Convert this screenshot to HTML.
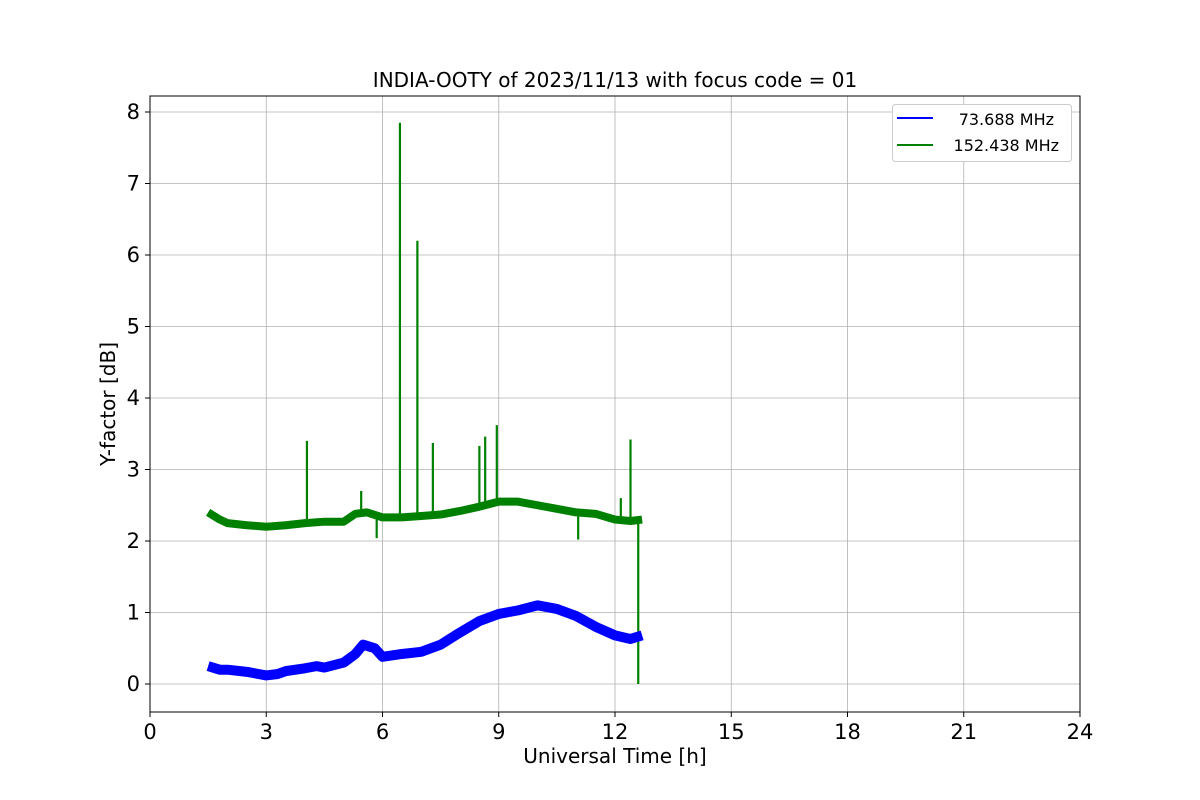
<!DOCTYPE html>
<html><head><meta charset="utf-8"><style>
body{margin:0;background:#fff}
svg{display:block;font-family:"DejaVu Sans","Liberation Sans",sans-serif}
</style></head><body>
<svg id="chart" width="1200" height="800">
<text x="615" y="87" text-anchor="middle" font-size="20">INDIA-OOTY of 2023/11/13 with focus code = 01</text>
<g id="grid"></g>
<g id="series"></g>
<rect x="150" y="96" width="930" height="616" fill="none" stroke="#000" stroke-width="1"/>
<g id="ticks"></g>
<text x="615" y="763" text-anchor="middle" font-size="20">Universal Time [h]</text>
<text x="115" y="404" text-anchor="middle" font-size="20" transform="rotate(-90 115 404)">Y-factor [dB]</text>
<g>
<rect x="892.5" y="104.5" width="179" height="57" rx="3" fill="#fff" stroke="#ccc"/>
<line x1="897" y1="118" x2="933" y2="118" stroke="#0000ff" stroke-width="2"/>
<text x="1054" y="125" text-anchor="end" font-size="16">73.688 MHz</text>
<line x1="897" y1="145" x2="933" y2="145" stroke="#008000" stroke-width="2"/>
<text x="1059" y="151" text-anchor="end" font-size="16">152.438 MHz</text>
</g>
</svg>
<script>
const xTicks=[0,3,6,9,12,15,18,21,24];
const yTicks=[0,1,2,3,4,5,6,7,8];
const blueT=[1.5,1.8,2,2.5,3,3.3,3.5,4,4.3,4.5,5,5.3,5.5,5.8,6,6.5,7,7.5,8,8.5,9,9.5,10,10.5,11,11.5,12,12.4,12.7];
const blueV=[0.25,0.2,0.2,0.17,0.12,0.14,0.18,0.22,0.25,0.23,0.3,0.42,0.55,0.5,0.38,0.42,0.45,0.55,0.72,0.88,0.98,1.03,1.1,1.05,0.95,0.8,0.68,0.63,0.68];
const greenT=[1.5,1.8,2,2.5,3,3.5,4,4.5,5,5.3,5.6,6,6.5,7,7.5,8,8.5,9,9.5,10,10.5,11,11.5,12,12.4,12.7];
const greenV=[2.4,2.3,2.25,2.22,2.2,2.22,2.25,2.27,2.27,2.38,2.4,2.33,2.33,2.35,2.37,2.42,2.48,2.55,2.55,2.5,2.45,2.4,2.38,2.3,2.28,2.3];
const spikeT=[4.05,5.45,6.45,6.9,7.3,8.5,8.65,8.95,12.15,12.4,12.6,11.05,5.85];
const spikeV=[3.4,2.7,7.85,6.2,3.37,3.33,3.46,3.62,2.6,3.42,0.0,2.02,2.04];
const X=t=>150+t*38.75, Y=v=>684-v*71.5;
const NS='http://www.w3.org/2000/svg';
function mk(tag,attrs,parent){const e=document.createElementNS(NS,tag);for(const k in attrs)e.setAttribute(k,attrs[k]);parent.appendChild(e);return e;}
const grid=document.getElementById('grid'),ticks=document.getElementById('ticks'),series=document.getElementById('series');
xTicks.forEach(t=>{
 const g=mk('line',{x1:X(t),x2:X(t),y1:96,y2:712,stroke:'#b0b0b0','stroke-width':0.8},grid);
 
 
 const m=mk('line',{x1:X(t),x2:X(t),y1:712,y2:717,stroke:'#000'},ticks);
 
 
 const l=mk('text',{x:X(t),y:739,'text-anchor':'middle','font-size':21},ticks);
 l.textContent=t;
 
 
});
yTicks.forEach(v=>{
 const g=mk('line',{x1:150,x2:1080,y1:Y(v),y2:Y(v),stroke:'#b0b0b0','stroke-width':0.8},grid);
 
 
 const m=mk('line',{x1:145,x2:150,y1:Y(v),y2:Y(v),stroke:'#000'},ticks);
 
 
 const l=mk('text',{x:140,y:Y(v)+7,'text-anchor':'end','font-size':21},ticks);
 l.textContent=v;
 
 
});
const pts=(T,V)=>T.map((t,i)=>X(t)+','+Y(V[i])).join(' ');
const gl=mk('polyline',{points:pts(greenT,greenV),fill:'none',stroke:'#008000','stroke-width':8,'stroke-linejoin':'round','stroke-linecap':'butt'},series);


spikeT.forEach((t,i)=>{
 let j=0;while(j<greenT.length-2&&greenT[j+1]<t)j++;
 const base=greenV[j]+(greenV[j+1]-greenV[j])*(t-greenT[j])/(greenT[j+1]-greenT[j]);
 const s=mk('line',{x1:X(t),x2:X(t),y1:Y(base),y2:Y(spikeV[i]),stroke:'#008000','stroke-width':2.2},series);
 
 
});
const bl=mk('polyline',{points:pts(blueT,blueV),fill:'none',stroke:'#0000ff','stroke-width':10,'stroke-linejoin':'round','stroke-linecap':'butt'},series);


</script>
</body></html>
